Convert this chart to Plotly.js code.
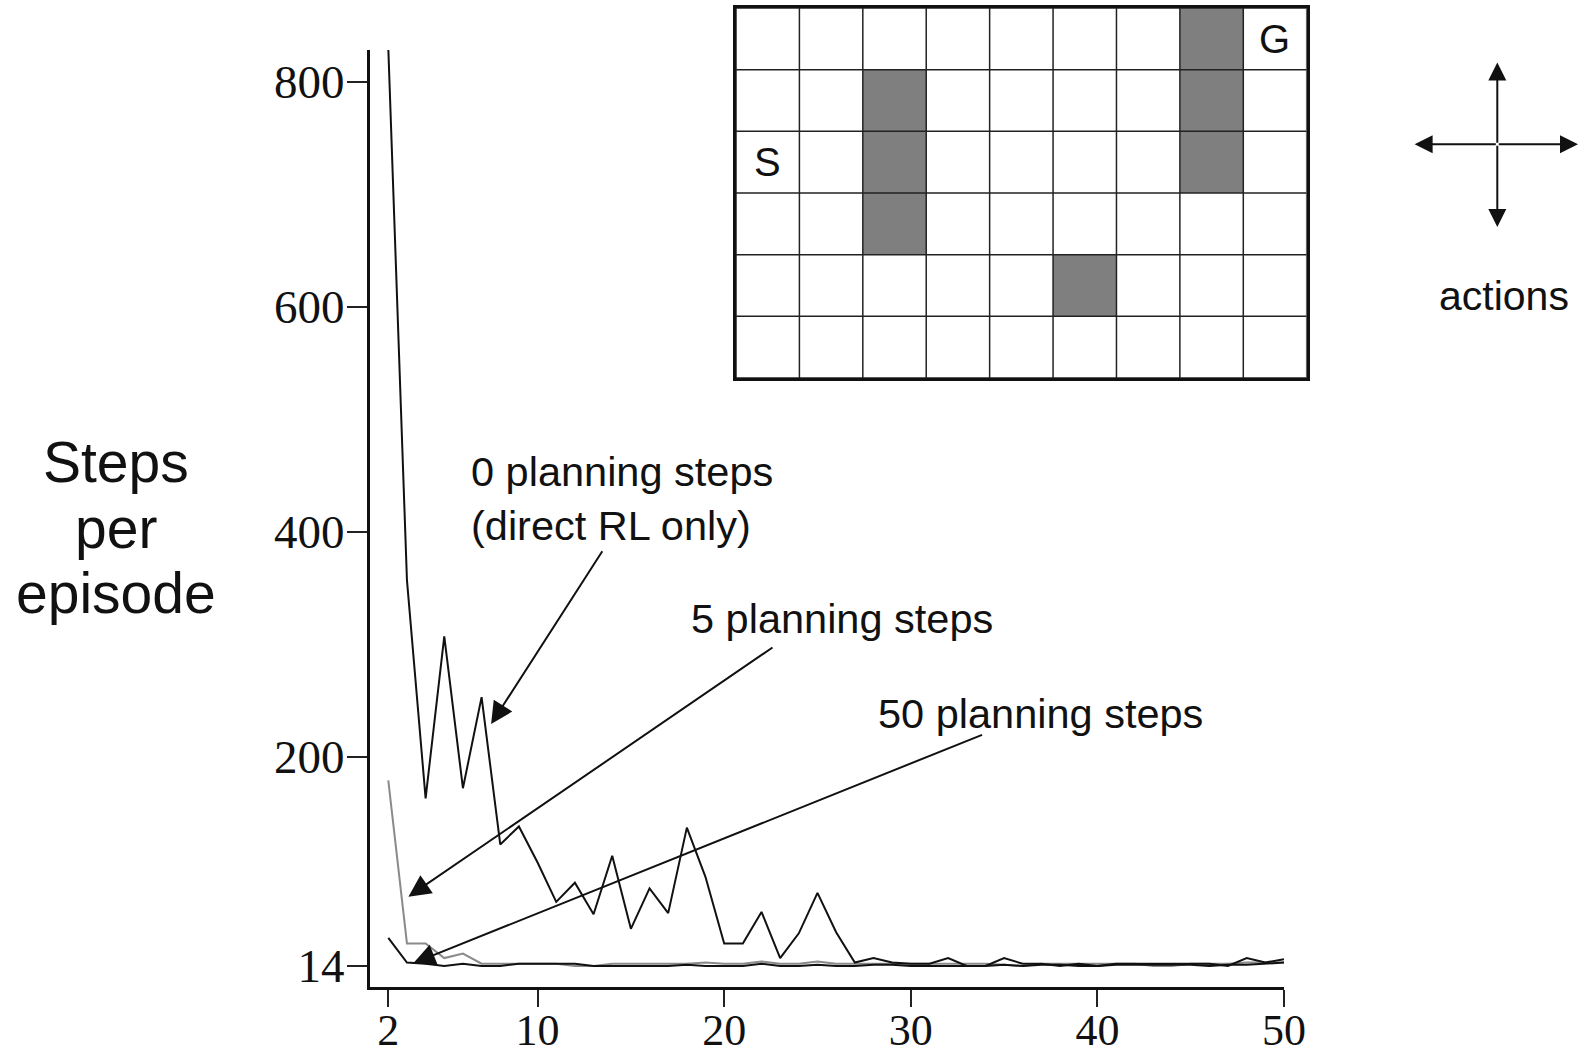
<!DOCTYPE html>
<html>
<head>
<meta charset="utf-8">
<script src="https://cdn.plot.ly/plotly-3.0.1.min.js"></script>
<style>html,body{margin:0;padding:0;background:#fff;}#chart{width:1581px;height:1054px;}</style>
</head>
<body>
<div id="chart"></div>
<script>
// ---- data ----
const episodes = [2,3,4,5,6,7,8,9,10,11,12,13,14,15,16,17,18,19,20,21,22,23,24,25,26,27,28,29,30,31,32,33,34,35,36,37,38,39,40,41,42,43,44,45,46,47,48,49,50];
const noPlanning = [830,357,163,307,172,253,122,138,106,71,88,60,112,47,83,61,137,93,34,34,62,21,43,79,44,17,21,17,16,16,21,14,14,21,16,16,14,16,14,16,16,16,16,16,16,14,21,17,20];
const planning5  = [179,34,34,21,25,16,16,16,16,16,14,14,16,16,16,16,16,17,16,16,18,16,16,18,16,16,16,16,16,16,16,16,16,15,14,16,16,16,16,16,16,14,14,16,16,16,17,17,17];
const planning50 = [39,17,16,14,16,14,14,16,16,16,16,14,14,14,14,14,15,14,14,14,16,14,14,15,14,14,15,15,14,14,14,14,14,15,14,15,15,14,14,15,15,15,15,15,14,15,15,16,17];
const xTicks = [2,10,20,30,40,50];
const yTicks = [14,200,400,600,800];
const seriesLabels = ["0 planning steps<br>(direct RL only)", "5 planning steps", "50 planning steps"];
const yTitleLines = ["Steps", "per", "episode"];
// maze: 1 = obstacle
const mazeCells = [
  [0,0,0,0,0,0,0,1,0],
  [0,0,1,0,0,0,0,1,0],
  [0,0,1,0,0,0,0,1,0],
  [0,0,1,0,0,0,0,0,0],
  [0,0,0,0,0,1,0,0,0],
  [0,0,0,0,0,0,0,0,0]
];
const mazeMarks = [{text:"S", col:0, row:2}, {text:"G", col:8, row:0}];
const actionsLabel = "actions";

// ---- figure ----
const W = 1581, H = 1054;
const px = v => v / W;
const py = v => 1 - v / H;

const nRows = mazeCells.length, nCols = mazeCells[0].length;
const gx = [], gy = [];
for (let c = 0; c <= nCols; c++) { gx.push(c - 0.5, c - 0.5, null); gy.push(-0.5, nRows - 0.5, null); }
for (let r = 0; r <= nRows; r++) { gx.push(-0.5, nCols - 0.5, null); gy.push(r - 0.5, r - 0.5, null); }

const traces = [
  {x: episodes, y: planning5, mode: 'lines', line: {color: '#8a8a8a', width: 2}, hoverinfo: 'skip', xaxis: 'x', yaxis: 'y'},
  {x: episodes, y: planning50, mode: 'lines', line: {color: '#111', width: 2}, hoverinfo: 'skip', xaxis: 'x', yaxis: 'y'},
  {x: episodes, y: noPlanning, mode: 'lines', line: {color: '#111', width: 2}, hoverinfo: 'skip', xaxis: 'x', yaxis: 'y'},
  {type: 'heatmap', z: mazeCells, x: [...Array(nCols).keys()], y: [...Array(nRows).keys()],
   colorscale: [[0, '#ffffff'], [1, '#7f7f7f']], zmin: 0, zmax: 1, showscale: false, hoverinfo: 'skip',
   xaxis: 'x2', yaxis: 'y2'},
  {x: gx, y: gy, mode: 'lines', line: {color: '#222', width: 1.5}, hoverinfo: 'skip', xaxis: 'x2', yaxis: 'y2', connectgaps: false}
];

const sans = 'Liberation Sans, Arial, Helvetica, sans-serif';
const annotations = [];
// y title
const yTitleY = [461.8, 528.3, 592.9];
yTitleLines.forEach((t, i) => annotations.push({text: t, xref: 'paper', yref: 'paper', x: px(116), y: py(yTitleY[i]),
  xanchor: 'center', yanchor: 'middle', showarrow: false, font: {family: sans, size: 57, color: '#111'}}));
// series labels
const labelPos = [[469, 498.5], [689, 618], [875.5, 713.9]];
seriesLabels.forEach((t, i) => annotations.push({text: t, xref: 'paper', yref: 'paper', x: px(labelPos[i][0]), y: py(labelPos[i][1]),
  xanchor: 'left', yanchor: 'middle', align: 'left', showarrow: false, font: {family: sans, size: 41.5, color: '#111'}}));
// pointer arrows (head x,y ; tail ax,ay in data units)
const arrows = [[7.51, 229, 13.52, 384], [3.08, 75.6, 22.67, 298], [3.34, 16.4, 33.9, 220]];
arrows.forEach(a => annotations.push({text: '', x: a[0], y: a[1], ax: a[2], ay: a[3], xref: 'x', yref: 'y', axref: 'x', ayref: 'y',
  showarrow: true, arrowhead: 2, arrowsize: 2.2, arrowwidth: 2, arrowcolor: '#111', standoff: 0}));
// maze letters
mazeMarks.forEach(m => annotations.push({text: m.text, xref: 'x2', yref: 'y2', x: m.col, y: m.row, showarrow: false,
  font: {family: sans, size: 40, color: '#111'}}));
// actions cross
const cx = 1497.3, cy = 144.2;
[[1578, cy], [1414.6, cy], [cx, 62.5], [cx, 226.9]].forEach(t => annotations.push({text: '', xref: 'paper', yref: 'paper',
  x: px(t[0]), y: py(t[1]), ax: cx - t[0], ay: cy - t[1], showarrow: true, arrowhead: 2, arrowsize: 1.8, arrowwidth: 2,
  arrowcolor: '#111', standoff: 0}));
annotations.push({text: actionsLabel, xref: 'paper', yref: 'paper', x: px(1504.4), y: py(296.4), xanchor: 'center', yanchor: 'middle',
  showarrow: false, font: {family: sans, size: 41, color: '#111'}});

const serif = 'Liberation Serif, Times New Roman, serif';
const layout = {
  width: W, height: H,
  margin: {l: 0, r: 0, t: 0, b: 0},
  paper_bgcolor: '#fff', plot_bgcolor: 'rgba(0,0,0,0)',
  showlegend: false,
  xaxis: {domain: [370 / W, 1284 / W], range: [1.02, 50], tickvals: xTicks, ticktext: xTicks.map(String),
    ticks: 'outside', ticklen: 17, tickwidth: 2, tickcolor: '#222', showline: true, linecolor: '#111', linewidth: 3,
    ticklabelstandoff: -15,
    showgrid: false, zeroline: false, tickfont: {family: serif, size: 44, color: '#111'}, anchor: 'y', fixedrange: true},
  yaxis: {domain: [1 - 987 / H, 1 - 50 / H], range: [-4.7, 828.2], tickvals: yTicks, ticktext: yTicks.map(String),
    ticks: 'outside', ticklen: 20, tickwidth: 2, tickcolor: '#222', showline: true, linecolor: '#111', linewidth: 3,
    ticklabelstandoff: -7,
    showgrid: false, zeroline: false, tickfont: {family: serif, size: 47, color: '#111'}, anchor: 'x', fixedrange: true},
  xaxis2: {domain: [736 / W, 1306.7 / W], range: [-0.5, nCols - 0.5], showticklabels: false, ticks: '', showgrid: false,
    zeroline: false, showline: true, mirror: true, linecolor: '#111', linewidth: 3, anchor: 'y2', fixedrange: true},
  yaxis2: {domain: [1 - 378 / H, 1 - 8 / H], range: [nRows - 0.5, -0.5], showticklabels: false, ticks: '', showgrid: false,
    zeroline: false, showline: true, mirror: true, linecolor: '#111', linewidth: 3, anchor: 'x2', fixedrange: true},
  annotations: annotations
};

Plotly.newPlot('chart', traces, layout, {displayModeBar: false, staticPlot: true});
</script>
</body>
</html>
